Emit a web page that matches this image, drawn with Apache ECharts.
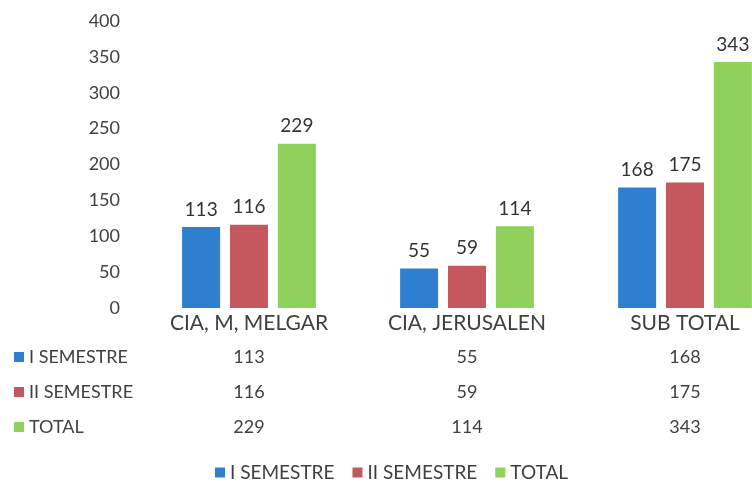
<!DOCTYPE html>
<html><head><meta charset="utf-8">
<script src="https://cdn.jsdelivr.net/npm/echarts@6/dist/echarts.min.js"></script>
<style>html,body{margin:0;padding:0;width:752px;height:483px;overflow:hidden;background:#fff}#c{width:794px;height:483px}</style>
</head><body><div id="c"></div>
<script>
const categories = ['CIA, M, MELGAR', 'CIA, JERUSALEN', 'SUB TOTAL'];
const seriesNames = ['I SEMESTRE', 'II SEMESTRE', 'TOTAL'];
const sem1 = [113, 55, 168];
const sem2 = [116, 59, 175];
const total = [229, 114, 343];
const colors = ['#2e7fcf', '#c4585e', '#8fd15a'];
const values = [sem1, sem2, total];

const font = 'Lato';
const txt = '#404040';
const chart = echarts.init(document.getElementById('c'));
const tableAxes = values.map((v, i) => ({
  type: 'category', gridIndex: 0, position: 'bottom', offset: 36 + 35 * i,
  data: v.map(String),
  axisLine: {show: false}, axisTick: {show: false},
  axisLabel: {margin: 4, fontFamily: font, fontSize: 18, color: txt}
}));
chart.setOption({
  animation: false,
  textStyle: {fontFamily: font},
  grid: {left: 140, right: 0, top: 21, bottom: 175},
  legend: [
    {data: seriesNames, orient: 'vertical', left: 9, top: 343, itemWidth: 10, itemHeight: 10, itemGap: 17,
     icon: 'rect', textStyle: {fontFamily: font, fontSize: 18, color: txt}, selectedMode: false},
    {data: seriesNames, orient: 'horizontal', left: 210, top: 458, itemWidth: 10, itemHeight: 10, itemGap: 18,
     icon: 'rect', textStyle: {fontFamily: font, fontSize: 19, color: txt}, selectedMode: false}
  ],
  xAxis: [{
    type: 'category', data: categories,
    axisLine: {show: false}, axisTick: {show: false},
    axisLabel: {margin: 5, fontFamily: font, fontSize: 21, color: txt}
  }].concat(tableAxes),
  yAxis: {
    type: 'value', min: 0, max: 400, interval: 50,
    splitLine: {show: false}, axisLine: {show: false}, axisTick: {show: false},
    axisLabel: {margin: 20, fontFamily: font, fontSize: 18, color: txt}
  },
  series: values.map((v, i) => ({
    name: seriesNames[i], type: 'bar', data: v, barWidth: 38, barGap: '26%',
    itemStyle: {color: colors[i]},
    label: {show: true, position: 'top', distance: 8, fontFamily: font, fontSize: 19, color: '#333'}
  }))
});
</script></body></html>
